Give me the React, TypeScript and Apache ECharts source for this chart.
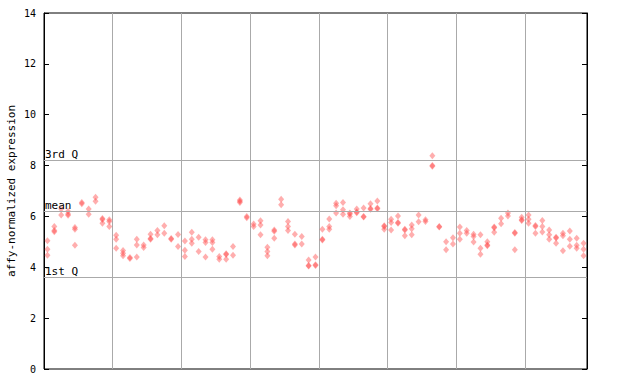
import React, { useEffect, useRef } from "react";
import * as echarts from "echarts";

const yTicks = [0, 2, 4, 6, 8, 10, 12, 14];
const refLines = [
  { name: "3rd Q", value: 8.21 },
  { name: "mean", value: 6.22 },
  { name: "1st Q", value: 3.62 },
];

const rep1: (number | null)[] = [
  5.04, 5.6, 6.29, 6.2, 5.56, 6.55, 6.29, 6.75, 5.92, 5.87,
  5.26, 4.66, 4.38, 5.1, 4.88, 5.3, 5.45, 5.63, 5.13, 5.29,
  5.03, 5.38, 5.18, 5.08, 5.08, 4.42, 4.53, 4.82, 6.65, 6.0,
  5.7, 5.83, 4.79, 5.47, 6.68, 5.8, 5.3, 5.21, 4.29, 4.4,
  5.5, 5.9, 6.52, 6.55, 6.13, 6.29, 6.33, 6.5, 6.61, 5.63,
  5.89, 6.02, 5.5, 5.66, 6.06, 5.87, 8.39, 5.6, 5.0, 5.16,
  5.58, 5.45, 5.3, 5.28, 5.0, 5.58, 5.93, 6.13, 5.37, 5.97,
  6.06, 5.64, 5.84, 5.47, 5.18, 5.34, 5.43, 5.14, 4.95,
];
const rep2: (number | null)[] = [
  4.71, 5.45, 6.06, 6.1, 5.5, 6.5, 6.09, 6.6, 5.88, 5.8,
  5.1, 4.55, 4.35, 4.88, 4.78, 5.13, 5.28, 5.34, 5.1, 4.82,
  4.67, 5.1, 4.62, 4.97, 4.97, 4.32, 4.5, 4.47, 6.6, 5.95,
  5.6, 5.66, 4.62, 5.42, 6.46, 5.6, 4.92, 4.92, 4.07, 4.1,
  5.1, 5.6, 6.42, 6.26, 6.1, 6.17, 6.0, 6.31, 6.33, 5.6,
  5.76, 5.76, 5.47, 5.52, 5.79, 5.8, 8.0, 5.58, 4.69, 4.92,
  5.34, 5.34, 5.21, 4.75, 4.88, 5.55, 5.71, 6.02, 5.34, 5.87,
  5.89, 5.6, 5.6, 5.28, 5.15, 5.24, 5.1, 4.87, 4.71,
];
const rep3: (number | null)[] = [
  4.47, 5.4, null, 6.05, 4.87, null, null, null, 5.73, 5.6,
  4.75, 4.45, null, 4.4, null, 5.1, null, null, null, null,
  4.42, 4.95, null, 4.4, 4.71, null, 4.32, null, 6.55, null,
  null, 5.28, 4.45, 5.14, null, 5.45, 4.88, null, 4.05, 4.07,
  5.07, 5.5, 6.13, 6.09, 6.0, 6.14, 5.98, 6.28, 6.3, 5.5,
  5.47, 5.73, 5.24, 5.28, null, null, 7.97, null, null, null,
  5.1, null, 4.99, 4.51, 4.85, 5.38, null, null, 4.69, 5.84,
  5.73, 5.34, 5.39, 5.1, 4.95, 4.65, 4.83, 4.75, 4.45,
];

const nSamples = rep1.length;

export default function App() {
  const ref = useRef<HTMLDivElement>(null);
  useEffect(() => {
    document.body.style.margin = "0";
    const chart = echarts.init(ref.current!, null, { renderer: "svg" });
    const points: number[][] = [];
    [rep1, rep2, rep3].forEach((rep) => {
      rep.forEach((v, i) => {
        if (v !== null) points.push([i + 0.5, v]);
      });
    });
    const mono = "DejaVu Sans Mono";
    chart.setOption({
      animation: false,
      grid: {
        left: 44,
        right: 53,
        top: 13,
        bottom: 15,
        containLabel: false,
        outerBoundsMode: "none",
        show: true,
        borderColor: "#000",
        borderWidth: 1,
        backgroundColor: "#fff",
      },
      xAxis: {
        type: "value",
        min: 0,
        max: nSamples,
        interval: 10,
        axisLabel: { show: false },
        axisTick: { show: false },
        axisLine: { show: false },
        splitLine: { show: true, lineStyle: { color: "#aaaaaa", width: 1 } },
      },
      yAxis: [
        {
          type: "value",
          min: yTicks[0],
          max: yTicks[yTicks.length - 1],
          interval: 2,
          name: "affy-normalized expression",
          nameLocation: "middle",
          nameRotate: 90,
          nameGap: 27,
          nameMoveOverlap: false,
          nameTextStyle: { fontFamily: mono, fontSize: 11, color: "#000" },
          axisLine: { show: true, lineStyle: { color: "#000" } },
          axisTick: { show: true, inside: true, length: 5, lineStyle: { color: "#000" } },
          axisLabel: { fontFamily: mono, fontSize: 10, color: "#000", margin: 8 },
          splitLine: { show: false },
        },
        {
          type: "value",
          position: "right",
          min: yTicks[0],
          max: yTicks[yTicks.length - 1],
          interval: 2,
          axisLine: { show: true, lineStyle: { color: "#000" } },
          axisTick: { show: true, inside: true, length: 5, lineStyle: { color: "#000" } },
          axisLabel: { show: false },
          splitLine: { show: false },
        },
      ],
      series: [
        {
          type: "scatter",
          data: points,
          symbol: "diamond",
          symbolSize: [6, 7],
          itemStyle: { color: "rgba(255,70,70,0.55)" },
          z: 3,
          markLine: {
            silent: true,
            symbol: "none",
            animation: false,
            lineStyle: { color: "#aaaaaa", type: "solid", width: 1 },
            label: {
              show: true,
              position: "insideStartTop",
              formatter: "{b}",
              fontFamily: mono,
              fontSize: 11,
              color: "#000",
              distance: [1, 0],
            },
            data: refLines.map((r) => ({ name: r.name, yAxis: r.value })),
          },
        },
      ],
    });
    return () => chart.dispose();
  }, []);
  return (
    <div
      ref={ref}
      style={{ position: "absolute", left: 0, top: 0, width: 640, height: 384 }}
    />
  );
}
